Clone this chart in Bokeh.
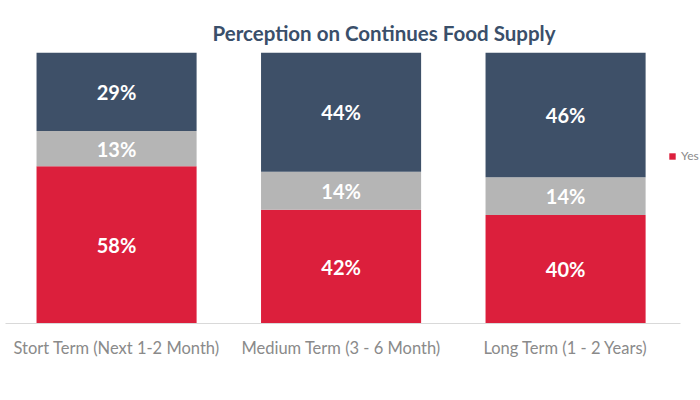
from bokeh.plotting import figure
from bokeh.models import ColumnDataSource, Range1d, FixedTicker, Legend, LegendItem
from bokeh.core.properties import value
from bokeh.embed import file_html
from bokeh.resources import INLINE

categories = ["Stort Term (Next 1-2 Month)", "Medium Term (3 - 6 Month)", "Long Term (1 - 2 Years)"]
yes = [58, 42, 40]
unsure = [13, 14, 14]
no = [29, 44, 46]
series_names = ["Yes", "Not Sure", "No"]
colors = ["#dc1f3c", "#b5b5b5", "#3e5068"]

xs = list(range(len(categories)))
src = ColumnDataSource(dict(x=xs, yes=yes, unsure=unsure, no=no))

p = figure(width=700, height=400, output_backend="svg", toolbar_location=None,
           x_range=Range1d(-0.517, 2.601), y_range=Range1d(0, 100),
           min_border_left=0, min_border_right=0, min_border_top=52, min_border_bottom=77)
p.background_fill_color = "white"
p.border_fill_color = "white"
p.outline_line_color = None
p.grid.visible = False
p.yaxis.visible = False

renderers = p.vbar_stack(["yes", "unsure", "no"], x="x", width=0.713, color=colors,
                         line_color=None, source=src)

# value labels
lx, ly, lt = [], [], []
for i in xs:
    base = 0
    for v in (yes[i], unsure[i], no[i]):
        lx.append(i)
        ly.append(base + v / 2)
        lt.append(f"{v}%")
        base += v
p.text(x=lx, y=ly, text=lt, text_color="white", text_font=value("Lato"),
       text_font_style="bold", text_font_size="20px", text_align="center",
       text_baseline="middle")

xa = p.xaxis[0]
xa.ticker = FixedTicker(ticks=xs)
xa.major_label_overrides = {i: c for i, c in zip(xs, categories)}
xa.major_tick_line_color = None
xa.minor_tick_line_color = None
xa.axis_line_color = "#d9d9d9"
xa.bounds = (-0.494, 2.512)
xa.major_label_text_color = "#8a8a8a"
xa.major_label_text_font = "Lato"
xa.major_label_text_font_size = "16.5px"
xa.major_label_standoff = 8

p.title.text = "Perception on Continues Food Supply"
p.title.text_font = "Lato"
p.title.text_font_style = "bold"
p.title.text_font_size = "20.5px"
p.title.text_color = "#3a4f6a"
p.title.align = "left"
p.title.offset = 212
p.title.standoff = 16

legend = Legend(items=[LegendItem(label=series_names[0], renderers=[renderers[0]])],
                orientation="horizontal", location=(668, 160), padding=0, margin=0,
                glyph_width=8, glyph_height=8, label_standoff=5, spacing=10,
                label_text_font="Lato", label_text_font_size="12px",
                label_text_color="#8a8a8a", label_height=14,
                border_line_color=None, background_fill_alpha=0)
p.add_layout(legend)

open("out.html", "w").write(file_html(p, INLINE))
